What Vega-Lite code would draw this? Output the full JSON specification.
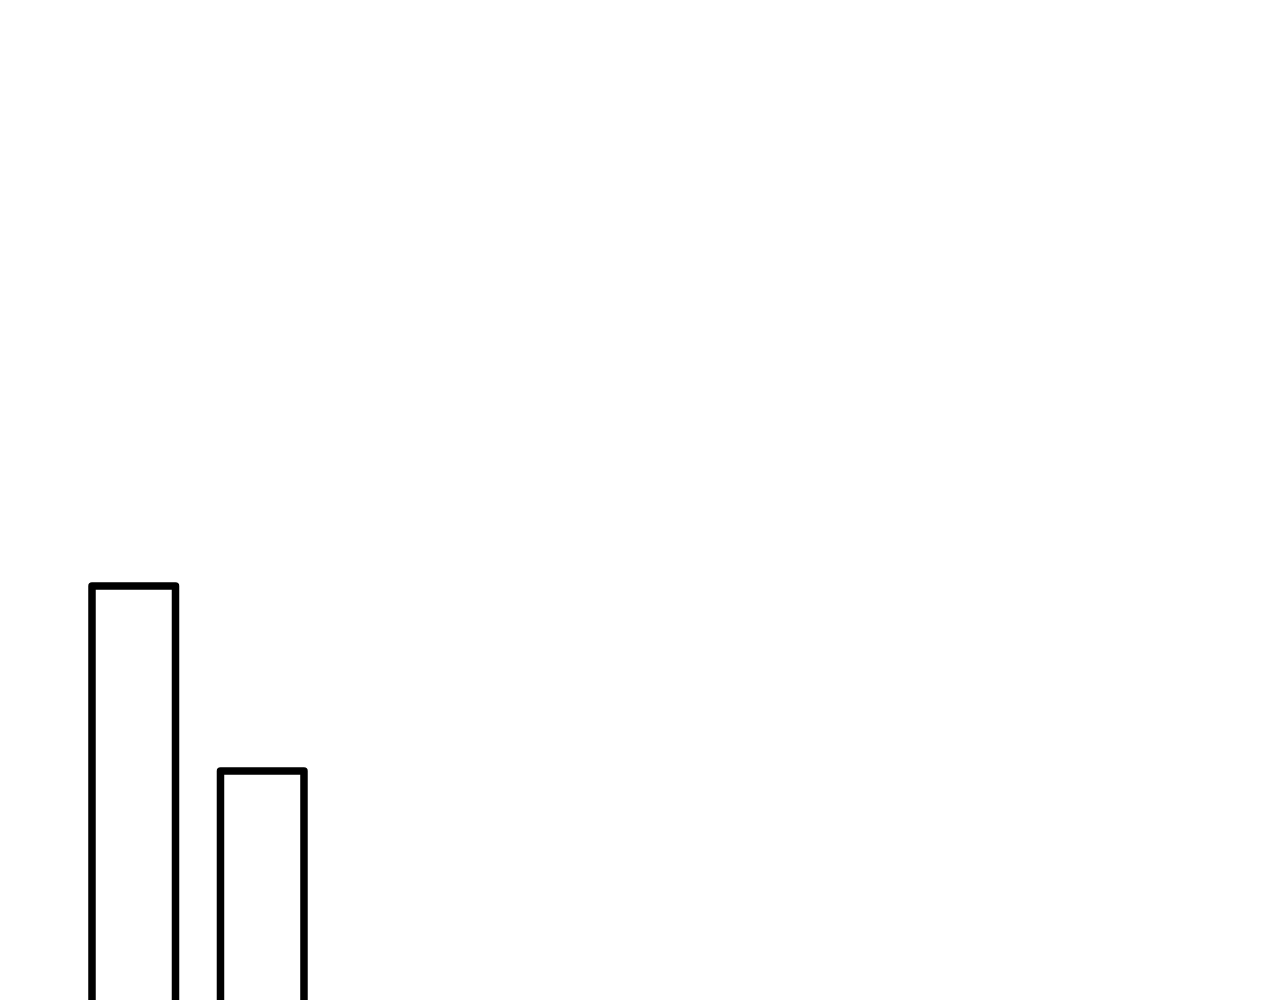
{
  "$schema": "https://vega.github.io/schema/vega-lite/v6.json",
  "width": 1280,
  "height": 1000,
  "autosize": {"type": "fit", "contains": "padding"},
  "padding": 0,
  "background": "white",
  "data": {
    "values": [
      {"item": 1, "value": 60},
      {"item": 2, "value": 40}
    ]
  },
  "mark": {
    "type": "bar",
    "fill": "white",
    "stroke": "black",
    "strokeWidth": 7.5,
    "strokeJoin": "round",
    "width": 83.5,
    "clip": true
  },
  "encoding": {
    "x": {
      "field": "item",
      "type": "quantitative",
      "scale": {"domain": [-0.002, 9.882], "nice": false, "zero": false},
      "axis": null
    },
    "y": {
      "field": "value",
      "type": "quantitative",
      "scale": {"domain": [15.24, 123.35], "nice": false, "zero": false},
      "axis": null
    }
  },
  "config": {
    "view": {"stroke": "transparent"}
  }
}
